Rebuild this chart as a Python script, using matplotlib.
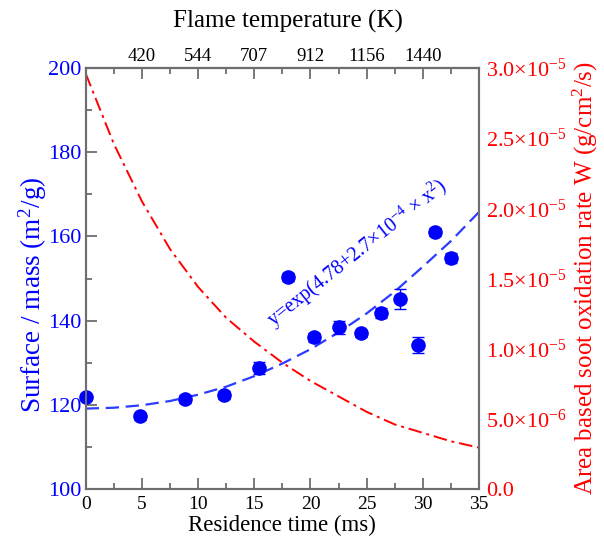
import matplotlib
matplotlib.use('Agg')
import matplotlib.pyplot as plt
from matplotlib.ticker import FixedLocator, MultipleLocator

plt.rcParams['font.family'] = ['Liberation Serif', 'DejaVu Serif']
plt.rcParams['mathtext.fontset'] = 'custom'
plt.rcParams['mathtext.rm'] = 'Liberation Serif'
plt.rcParams['mathtext.it'] = 'Liberation Serif:italic'
plt.rcParams['mathtext.default'] = 'regular'

# ---- data ----
time_ms = [0.0, 4.8, 8.8, 12.3, 15.4, 18.0, 20.3, 22.5, 24.5, 26.3, 28.0, 29.6, 31.1, 32.5]
surface = [121.9, 117.3, 121.4, 122.3, 128.7, 150.3, 136.0, 138.4, 137.0, 141.9, 145.1, 134.2, 161.1, 154.9]
surface_err = [0.6, 0.8, 1.0, 1.0, 1.5, 1.0, 1.0, 1.5, 0.8, 1.2, 2.4, 2.0, 1.0, 1.2]

fit_t = [0, 2.5, 5, 7.5, 10, 12.5, 15, 17.5, 20, 22.5, 25, 27.5, 30, 32.5, 35]
fit_y = [119.1, 119.3, 119.9, 120.9, 122.4, 124.3, 126.8, 129.8, 133.2, 137.2, 141.7, 146.9, 152.8, 158.9, 165.8]

ox_t = [0, 2.5, 5, 7.5, 10, 12.5, 15, 17.5, 20, 22.5, 25, 27.5, 30, 32.5, 35]
ox_w = [2.96e-5, 2.46e-5, 2.05e-5, 1.71e-5, 1.44e-5, 1.22e-5, 1.05e-5, 0.90e-5,
        0.77e-5, 0.66e-5, 0.55e-5, 0.46e-5, 0.40e-5, 0.34e-5, 0.295e-5]

x_ticks = [0, 5, 10, 15, 20, 25, 30, 35]
x_labels = ['0', '5', '10', '15', '20', '25', '30', '35']
y_ticks = [100, 120, 140, 160, 180, 200]
temp_ticks = [5, 10, 15, 20, 25, 30]
temp_labels = ['420', '544', '707', '912', '1156', '1440']
w_ticks = [0.0, 5e-6, 1e-5, 1.5e-5, 2e-5, 2.5e-5, 3e-5]
w_labels = ['0.0', '5.0\u00d710$^{-6}$', '1.0\u00d710$^{-5}$', '1.5\u00d710$^{-5}$',
            '2.0\u00d710$^{-5}$', '2.5\u00d710$^{-5}$', '3.0\u00d710$^{-5}$']
fit_label = 'y=exp(4.78+2.7\u00d710$^{-4}$ \u00d7 x$^{2}$)'

BLUE = '#0000ff'
RED = '#ff0000'
SPINE = '#6e6e6e'

W, H = 604, 542
fig = plt.figure(figsize=(W / 100, H / 100), dpi=100)
L, R, T, B = 85.7, 479.0, 68.0, 489.0
ax = fig.add_axes([L / W, 1 - B / H, (R - L) / W, (B - T) / H])

ax.plot(fit_t, fit_y, color='#2a3cff', lw=1.6, dashes=(6, 3), zorder=2)
ax.errorbar(time_ms, surface, yerr=surface_err, fmt='o', color=BLUE, ms=9.5,
            ecolor=BLUE, elinewidth=1.0, capsize=4.5, capthick=1.0, clip_on=False, zorder=3)

ax.set_xlim(0, 35)
ax.set_ylim(100, 200)
ax.xaxis.set_major_locator(FixedLocator(x_ticks))
ax.set_xticklabels(x_labels)
ax.xaxis.set_minor_locator(MultipleLocator(2.5))
ax.yaxis.set_major_locator(FixedLocator(y_ticks))
ax.set_yticklabels([str(v) for v in y_ticks])
ax.yaxis.set_minor_locator(MultipleLocator(10))
ax.tick_params(axis='both', which='major', direction='in', length=8, width=1.3, color=SPINE,
               right=True, top=False)
ax.tick_params(axis='both', which='minor', direction='in', length=4.5, width=1.3, color=SPINE,
               right=True, top=False)
ax.tick_params(axis='y', labelcolor=BLUE, labelsize=16, pad=3)
ax.tick_params(axis='x', labelsize=14, pad=5)
for s in ax.spines.values():
    s.set_color(SPINE)
    s.set_linewidth(1.5)

ax.text(16.75, 138.4, fit_label, color=BLUE, fontsize=14.5, rotation=38.5,
        rotation_mode='anchor', ha='left', va='baseline')

# top axis: flame temperature
sec = ax.secondary_xaxis('top')
sec.xaxis.set_major_locator(FixedLocator(temp_ticks))
sec.set_xticklabels(temp_labels)
sec.xaxis.set_minor_locator(MultipleLocator(2.5))
sec.tick_params(which='major', direction='in', length=8, width=1.3, color=SPINE, labelsize=13.5, pad=2)
sec.tick_params(which='minor', direction='in', length=4.5, width=1.3, color=SPINE)
sec.spines['top'].set_color(SPINE)
sec.spines['top'].set_linewidth(1.5)

# right axis: oxidation rate
ax2 = ax.twinx()
ax2.plot(ox_t, ox_w, color=RED, lw=1.4, dashes=(7, 2.5, 1.5, 2.5))
ax2.set_ylim(0, 3e-5)
ax2.yaxis.set_major_locator(FixedLocator(w_ticks))
ax2.set_yticklabels(w_labels)
ax2.tick_params(axis='y', length=0, labelcolor=RED, labelsize=16, pad=5)
for s in ax2.spines.values():
    s.set_color(SPINE)
    s.set_linewidth(1.5)

fig.text(282 / W, 1 - 525 / H, 'Residence time (ms)', ha='center', va='center', fontsize=16.5)
fig.text(288 / W, 1 - 21 / H, 'Flame temperature (K)', ha='center', va='center', fontsize=18)
fig.text(33 / W, 1 - 295 / H, 'Surface / mass (m$^{2}$/g)', ha='center', va='center',
         rotation=90, fontsize=19.5, color=BLUE)
fig.text(585 / W, 1 - 278 / H, 'Area based soot oxidation rate W (g/cm$^{2}$/s)', ha='center',
         va='center', rotation=90, fontsize=18, color=RED)

fig.savefig('out.png', dpi=100)
